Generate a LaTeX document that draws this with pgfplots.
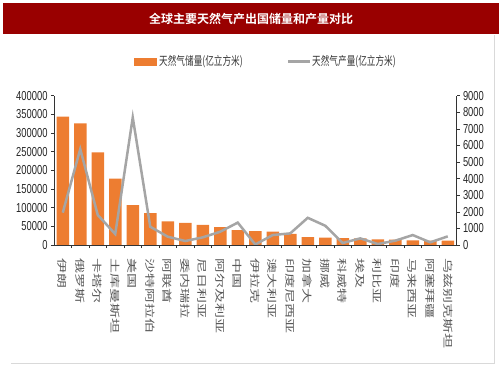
\documentclass[border=0pt]{standalone}
\usepackage{pgfplots}
\pgfplotsset{compat=1.18}
\usepackage{fontspec}
\setmainfont{Liberation Sans}
\newfontfamily\cjk{Noto Sans CJK SC}
\newfontfamily\cjkx[FakeStretch=1.5]{Noto Sans CJK SC}
\newfontfamily\cjkn[FakeStretch=0.72]{Noto Sans CJK SC}
\newfontfamily\cjkb{Noto Sans CJK SC Bold}
\newfontfamily\tickf[FakeStretch=0.72]{Liberation Sans}
\definecolor{barc}{HTML}{ED7D31}
\definecolor{linec}{HTML}{A5A5A5}
\definecolor{titlered}{HTML}{990000}
\begin{document}
\begin{tikzpicture}
\path[use as bounding box] (0bp,0bp) rectangle (503bp,378bp);
\fill[titlered] (3bp,344bp) rectangle (499bp,375bp);
\node[text=white] at (251bp,359.5bp) {\cjkb\fontsize{12bp}{14bp}\selectfont 全球主要天然气产出国储量和产量对比};
\draw[black!15, line width=0.8bp] (11bp,15bp) -- (494bp,15bp) -- (494bp,343bp);
% legend
\fill[barc] (134bp,312bp) rectangle (157bp,320bp);
\node[anchor=west, inner sep=0pt, text=black!80] at (159bp,316bp) {\cjkn\fontsize{12bp}{14bp}\selectfont 天然气储量(亿立方米)};
\draw[linec, line width=3bp] (288bp,316bp) -- (310bp,316bp);
\node[anchor=west, inner sep=0pt, text=black!80] at (312bp,316bp) {\cjkn\fontsize{12bp}{14bp}\selectfont 天然气产量(亿立方米)};
\begin{axis}[
  at={(54bp,133bp)}, anchor=south west, scale only axis,
  width=402.5bp, height=149.3bp,
  xmin=-0.5, xmax=22.5, ymin=0, ymax=400000,
  axis y line*=left, axis x line*=bottom,
  axis line style={black!80, line width=0.8bp},
  xtick={0,...,22},
  xticklabels={伊朗,俄罗斯,卡塔尔,土库曼斯坦,美国,沙特阿拉伯,阿联酋,委内瑞拉,尼日利亚,阿尔及利亚,中国,伊拉克,澳大利亚,印度尼西亚,加拿大,挪威,科威特,埃及,利比亚,印度,马来西亚,阿塞拜疆,乌兹别克斯坦},
  major x tick style={draw=none},
  minor x tick num=1,
  minor x tick style={draw=black!80, line width=0.6bp},
  minor tick length=3bp,
  major tick length=3bp,
  tick align=outside,
  ytick={0,50000,...,400000},
  scaled y ticks=false,
  ytick style={draw=black!80, line width=0.6bp},
  yticklabel style={/pgf/number format/fixed, /pgf/number format/1000 sep={}, font=\tickf\fontsize{13bp}{13bp}\selectfont, text=black!85},
  /pgf/number format/assume math mode=true,
  xticklabel shift=7bp,
  xticklabel style={font=\cjkx\fontsize{10bp}{10bp}\selectfont, rotate=-90, anchor=west, text=black!65},
]
\addplot[ybar, bar width=12.5bp, fill=barc, draw=none] coordinates {
(0,343700) (1,326000) (2,248000) (3,177700) (4,107000) (5,85700) (6,63400) (7,59000) (8,53600) (9,48200) (10,40000) (11,37000) (12,35700) (13,29500) (14,21400) (15,19600) (16,18750) (17,17900) (18,15200) (19,14300) (20,12500) (21,11600) (22,11600)};
\end{axis}
\begin{axis}[
  at={(54bp,133bp)}, anchor=south west, scale only axis,
  width=402.5bp, height=149.3bp,
  xmin=-0.5, xmax=22.5, ymin=0, ymax=9000,
  axis y line*=right, axis x line=none,
  axis line style={black!80, line width=0.8bp},
  ytick={0,1000,...,9000},
  major tick length=3bp,
  tick align=outside,
  ytick style={draw=black!80, line width=0.6bp},
  yticklabel style={/pgf/number format/fixed, /pgf/number format/1000 sep={}, font=\tickf\fontsize{13bp}{13bp}\selectfont, text=black!85},
  /pgf/number format/assume math mode=true,
]
\addplot[linec, line width=2.5bp, no marks] coordinates {
(0,1950) (1,5780) (2,1810) (3,660) (4,7690) (5,1100) (6,500) (7,240) (8,460) (9,800) (10,1350) (11,30) (12,600) (13,700) (14,1640) (15,1160) (16,120) (17,400) (18,60) (19,260) (20,600) (21,160) (22,520)};
\end{axis}
\end{tikzpicture}
\end{document}
